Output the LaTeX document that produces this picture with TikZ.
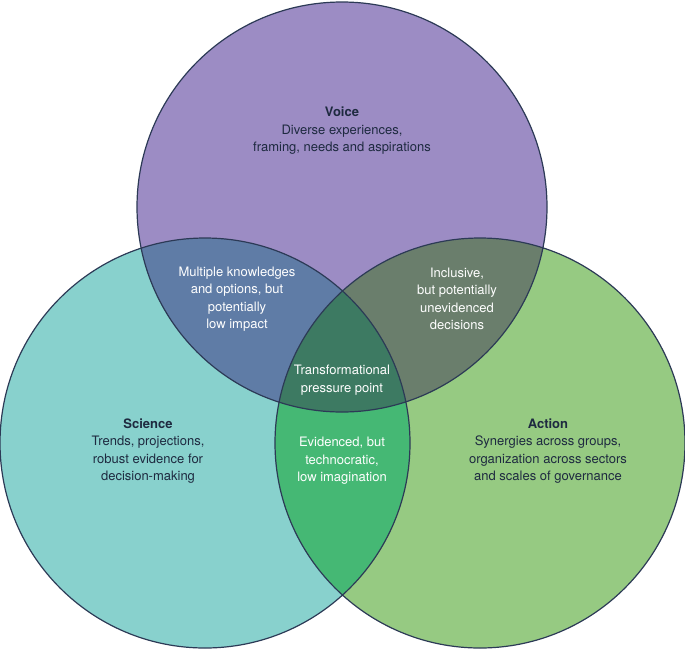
\documentclass[tikz,border=0pt]{standalone}
\usepackage{fontspec}
\setmainfont{TeX Gyre Heros}
\definecolor{cV}{HTML}{9C8CC4}
\definecolor{cS}{HTML}{88D1CD}
\definecolor{cA}{HTML}{96CA82}
\definecolor{cVS}{HTML}{5F7CA6}
\definecolor{cVA}{HTML}{6A7E6C}
\definecolor{cSA}{HTML}{45B874}
\definecolor{cVSA}{HTML}{3D7A62}
\definecolor{edge}{HTML}{2C3A56}
\definecolor{txt}{HTML}{1E2A40}
\begin{document}
\begin{tikzpicture}[x=1pt,y=-1pt,
  lab/.style={align=center,font=\fontsize{13}{17.5}\selectfont,text=txt},
  wlab/.style={lab,text=white}]
\useasboundingbox (0,0) rectangle (685,649);
\def\V{(342,207) circle (205)}
\def\S{(205,443) circle (205)}
\def\A{(480,443) circle (205)}
\fill[cV] \V; \fill[cS] \S; \fill[cA] \A;
\begin{scope}\clip \V; \fill[cVS] \S; \fill[cVA] \A; \end{scope}
\begin{scope}\clip \S; \fill[cSA] \A; \end{scope}
\begin{scope}\clip \V; \clip \S; \fill[cVSA] \A; \end{scope}
\draw[edge,line width=1.2pt] \V \S \A;
\node[lab] (v) at (342,131) {\textbf{Voice}\\Diverse experiences,\\framing, needs and aspirations};
\node[lab] (s) at (148,451) {\textbf{Science}\\Trends, projections,\\robust evidence for\\decision-making};
\node[lab] (a) at (548,451) {\textbf{Action}\\Synergies across groups,\\organization across sectors\\and scales of governance};
\node[wlab] (vs) at (237,299) {Multiple knowledges\\and options, but\\potentially\\low impact};
\node[wlab] (va) at (457,299) {Inclusive,\\but potentially\\unevidenced\\decisions};
\node[wlab] (sa) at (342,461) {Evidenced, but\\technocratic,\\low imagination};
\node[wlab] (vsa) at (342,380) {Transformational\\pressure point};
\end{tikzpicture}
\end{document}
